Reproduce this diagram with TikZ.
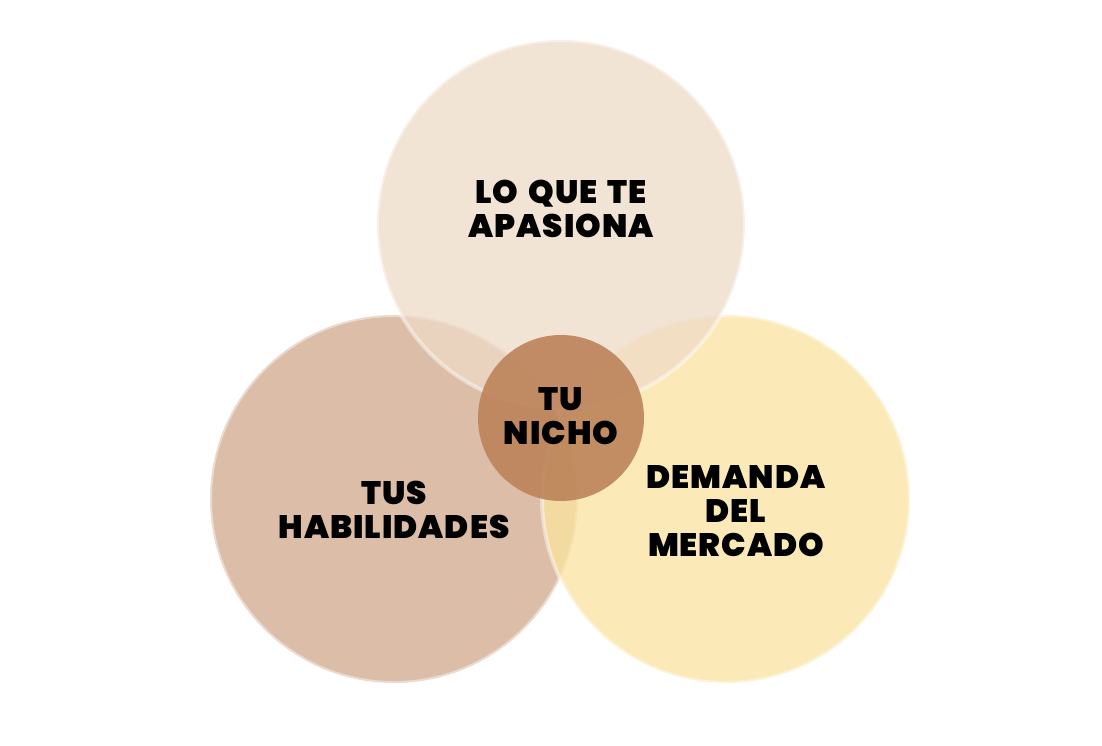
\documentclass[tikz,border=0pt]{standalone}
\usepackage{fontspec}
\usepackage{xcolor}
\usepackage{tikz}
\newfontfamily\nichefont{Poppins Black}[LetterSpace=3, WordSpace=1.6]
\definecolor{passionfill}{HTML}{EEDBC8}
\definecolor{skillsfill}{HTML}{CFA88B}
\definecolor{marketfill}{HTML}{FAE49F}
\definecolor{nichefill}{HTML}{BC8359}

\begin{document}
\begin{tikzpicture}[
    x=1pt, y=-1pt,
    bigcircle/.style={circle, minimum size=368pt, inner sep=0pt,
                      fill opacity=0.75, draw=white, draw opacity=0.45, line width=4pt},
    smallcircle/.style={circle, minimum size=166pt, inner sep=0pt, fill opacity=0.9},
    circletext/.style={align=center, inner sep=0pt,
                       font=\nichefont\fontsize{32.5}{34}\selectfont},
]
\useasboundingbox (0,0) rectangle (1102,746);
\fill[white] (0,0) rectangle (1102,746);

% Three big circles
\node[bigcircle, fill=skillsfill] (skills) at (394,499) {};
\node[bigcircle, fill=marketfill] (market) at (726,499) {};
\node[bigcircle, fill=passionfill] (passion) at (561,224) {};

% Niche in the middle
\node[smallcircle, fill=nichefill] (niche) at (561,418) {};

% Labels
\node[circletext] (skills_txt) at ([yshift=-11pt]skills.center) {TUS\\HABILIDADES};
\node[circletext] (market_txt) at ([xshift=10pt, yshift=-12pt]market.center) {DEMANDA\\DEL\\MERCADO};
\node[circletext] (passion_txt) at ([yshift=15pt]passion.center) {LO QUE TE\\APASIONA};
\node[circletext] (niche_txt) at ([yshift=2pt]niche.center) {TU\\NICHO};

\end{tikzpicture}
\end{document}
